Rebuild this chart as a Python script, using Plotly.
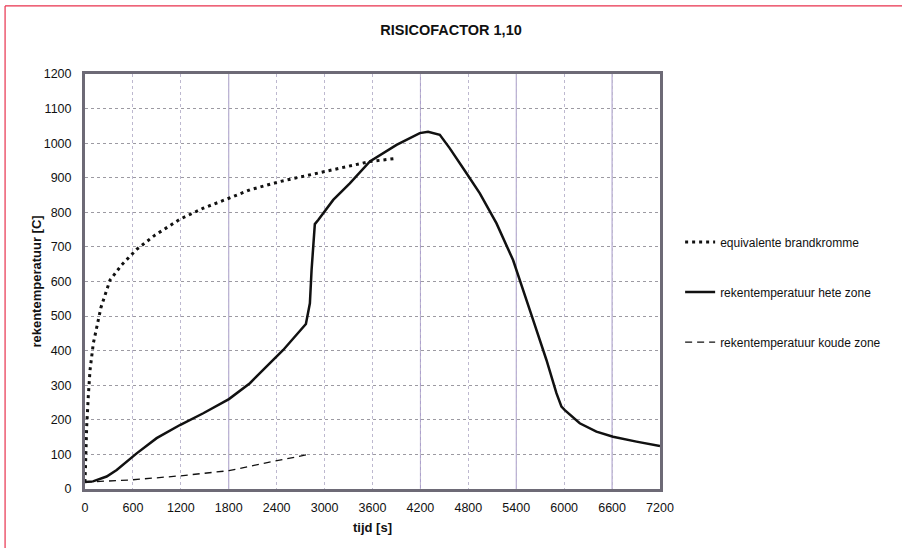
import plotly.graph_objects as go

# ---- data ----
eq_t = [0, 5, 21, 41, 63, 104, 167, 200, 313, 459, 647, 876, 1189, 1481, 1794, 2065, 2440, 2816, 3200, 3567, 3901]
eq_T = [20, 60, 180, 267, 344, 421, 494, 525, 604, 648, 693, 734, 780, 812, 840, 865, 889, 908, 928, 947, 956]

hot_t = [0, 100, 271, 397, 647, 897, 1189, 1481, 1802, 2065, 2482, 2766, 2816, 2837, 2878, 2920, 3108, 3316,
         3567, 3901, 4192, 4296, 4443, 4568, 4777, 4944, 5153, 5360, 5611, 5778, 5903, 5966, 6008, 6195,
         6404, 6612, 6905, 7200]
hot_T = [20, 22, 36, 55, 103, 147, 185, 219, 260, 306, 402, 477, 537, 633, 766, 778, 836, 884,
         947, 995, 1029, 1033, 1024, 985, 913, 855, 768, 662, 489, 373, 277, 238, 228, 190,
         166, 151, 137, 124]

cold_t = [0, 563, 1189, 1802, 2232, 2774, 2800]
cold_T = [20, 26, 38, 53, 74, 98, 100]

x_ticks = [0, 600, 1200, 1800, 2400, 3000, 3600, 4200, 4800, 5400, 6000, 6600, 7200]
y_ticks = [0, 100, 200, 300, 400, 500, 600, 700, 800, 900, 1000, 1100, 1200]
strong_grid = [1800, 4200, 5400, 6600]

FONT = "Liberation Sans, Arial, sans-serif"

fig = go.Figure()
fig.add_trace(go.Scatter(x=eq_t, y=eq_T, mode="lines", name="equivalente brandkromme",
                         legendgroup="a",
                         line=dict(color="#111111", width=3, dash="3px,4px")))
fig.add_trace(go.Scatter(x=hot_t, y=hot_T, mode="lines", name="rekentemperatuur hete zone",
                         legendgroup="b",
                         line=dict(color="#111111", width=2.5)))
fig.add_trace(go.Scatter(x=cold_t, y=cold_T, mode="lines", name="rekentemperatuur koude zone",
                         legendgroup="c",
                         line=dict(color="#111111", width=1.3, dash="7px,5px")))

shapes = []
for xv in strong_grid:
    shapes.append(dict(type="line", xref="x", yref="paper", x0=xv, x1=xv, y0=0, y1=1,
                       line=dict(color="#a597c8", width=1), layer="below"))
# scan border (red)
shapes.append(dict(type="line", xref="paper", yref="paper", x0=-0.139, x1=1.43, y0=1.164, y1=1.164,
                   line=dict(color="#e8314c", width=1.2)))
shapes.append(dict(type="line", xref="paper", yref="paper", x0=-0.139, x1=-0.139, y0=1.164, y1=-0.2,
                   line=dict(color="#e8314c", width=1.2)))

fig.update_layout(
    width=902, height=548,
    margin=dict(l=85, r=242, t=74, b=59),
    paper_bgcolor="white", plot_bgcolor="white",
    font=dict(family=FONT, size=12.5, color="#111111"),
    title=dict(text="<b>RISICOFACTOR 1,10</b>", x=0.5, xanchor="center", y=1 - 30 / 548, yanchor="middle",
               font=dict(size=14.5, family=FONT, color="#111111")),
    showlegend=True,
    legend=dict(x=1.035, xanchor="left", y=0.63, yanchor="top", tracegroupgap=31,
                font=dict(size=12, family=FONT, color="#111111"), bgcolor="rgba(0,0,0,0)"),
    shapes=shapes,
    xaxis=dict(range=[0, 7200], tickvals=x_ticks, ticktext=[str(v) for v in x_ticks],
               showgrid=True, gridcolor="#bdb8cf", griddash="dot", gridwidth=1,
               showline=True, linecolor="#6d6a76", linewidth=3, mirror=True,
               ticks="", ticklabelstandoff=5, zeroline=False,
               title=dict(text="<b>tijd [s]</b>", font=dict(size=13), standoff=9)),
    yaxis=dict(range=[0, 1200], tickvals=y_ticks, ticktext=[str(v) for v in y_ticks],
               showgrid=True, gridcolor="#9c9aa2", griddash="dot", gridwidth=1,
               showline=True, linecolor="#6d6a76", linewidth=3, mirror=True,
               ticks="", ticklabelstandoff=8, zeroline=False,
               title=dict(text="<b>rekentemperatuur [C]</b>", font=dict(size=13), standoff=0)),
)

fig.write_html("out.html", config={"displayModeBar": False},
               post_script="document.body.style.margin='0';")
